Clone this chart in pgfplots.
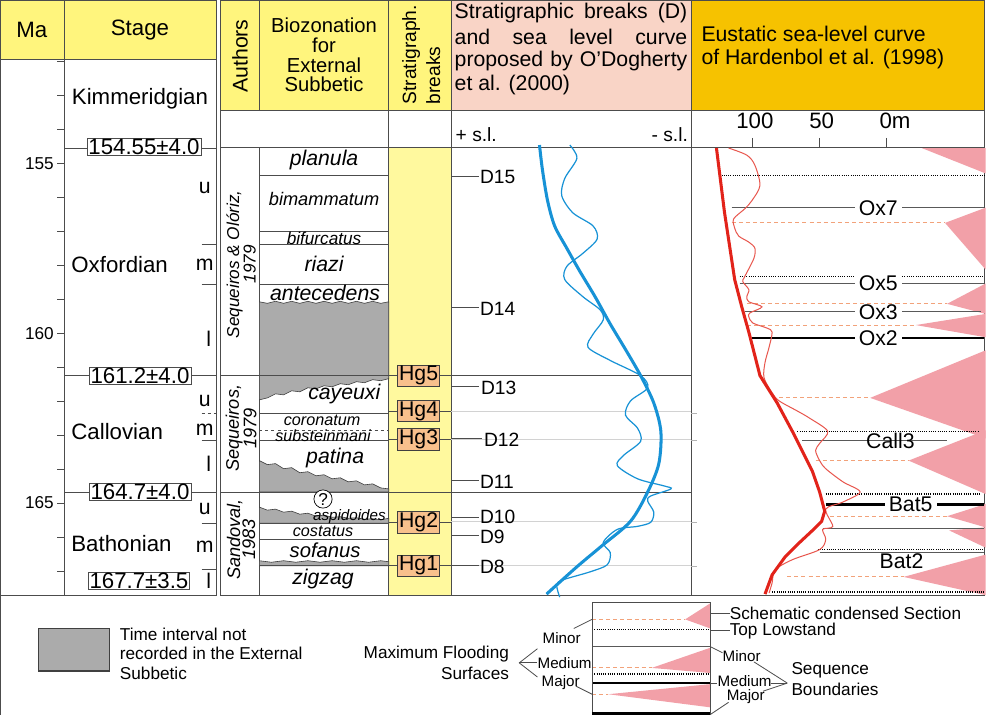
\documentclass[border=0pt]{standalone}
\usepackage{pgfplots}
\pgfplotsset{compat=1.18}
\usepackage{fontspec}
\setmainfont{Liberation Sans}
\definecolor{hdryel}{HTML}{FFF57D}
\definecolor{colyel}{HTML}{FFF99E}
\definecolor{hdrpink}{HTML}{F9D4C6}
\definecolor{hdrorange}{HTML}{F6C200}
\definecolor{hgbox}{HTML}{F8C08C}
\definecolor{tri}{HTML}{F2A0A8}
\definecolor{blue1}{HTML}{1792D6}
\definecolor{red1}{HTML}{E2231A}
\definecolor{red2}{HTML}{E8574E}
\definecolor{dashor}{HTML}{F2A27A}
\definecolor{hiat}{HTML}{ABABAB}
\tikzset{frame/.style={draw=gray!60!black, line width=0.8pt}}
\newcommand\F[1]{\fontsize{#1}{#1}\selectfont}
\newcommand\hl[4][]{\addplot[frame,#1] coordinates {(#2,#4)(#3,#4)};}
\newcommand\vl[4][]{\addplot[frame,#1] coordinates {(#4,#2)(#4,#3)};}
\newcommand\rect[5][]{\addplot[frame,#1] coordinates {(#2,#3)(#4,#3)(#4,#5)(#2,#5)} -- cycle;}
\newcommand\tri[6]{\addplot[draw=none,fill=tri] coordinates {(#1,#2)(#3,#4)(#5,#6)} -- cycle;}
\tikzset{dsh/.style={draw=dashor,line width=1pt,dash pattern=on 4pt off 3pt},
dot/.style={draw=black,line width=1.5pt,dash pattern=on 1pt off 1.2pt},
sbm/.style={draw=gray!70!black,line width=1pt}}
\begin{document}
\begin{tikzpicture}
\begin{axis}[x=1pt,y=1pt,y dir=reverse,xmin=0,xmax=986,ymin=0,ymax=717,
  hide axis,scale only axis,clip=false]
% ---------- left block
\rect[fill=hdryel]{12}{7}{75}{65}
\rect[fill=hdryel]{75}{7}{226}{65}
\rect[fill=white]{12}{65}{226}{595}
\vl{65}{595}{75}
\hl{68}{75}{67.2}\hl{68}{75}{100.8}\hl{68}{75}{134.4}\hl{68}{75}{168}
\hl{68}{75}{201.6}\hl{68}{75}{235.2}\hl{68}{75}{268.8}\hl{68}{75}{302.4}
\hl{68}{75}{336}\hl{68}{75}{369.6}\hl{68}{75}{403.2}\hl{68}{75}{436.8}
\hl{68}{75}{470.4}\hl{68}{75}{504}\hl{68}{75}{537.6}\hl{68}{75}{571.2}
\hl{75}{226}{153}\hl{75}{226}{378}\hl{75}{226}{493}
\hl{211}{226}{248}\hl{211}{226}{288}\hl[dashed]{211}{226}{415}\hl{211}{226}{442}
\hl{211}{226}{524}\hl{211}{226}{570}
% ---------- right block frame
\rect[fill=hdryel]{230}{7}{268}{116}
\rect[fill=hdryel]{268}{7}{396}{116}
\rect[fill=hdryel]{396}{7}{458}{116}
\rect[fill=hdrpink]{458}{7}{695}{116}
\rect[fill=hdrorange]{695}{7}{985}{116}
\rect[fill=white]{230}{116}{985}{595}
\rect[draw=none,fill=colyel]{396}{152}{458}{595}
\hl{230}{985}{152}
\vl{152}{595}{268}\vl{116}{595}{396}\vl{116}{595}{458}\vl{116}{595}{695}
% ---------- hiatus fills
\addplot[fill=hiat,draw=gray!50!black,line width=0.6pt] coordinates {(268,305)(276,306.5)(284,304.5)(292,306.5)(300,304.5)(308,306.5)(316,304.5)(324,306.5)(332,304.5)(340,306.5)(348,304.5)(356,306.5)(364,304.5)(372,306.5)(380,304.5)(388,306.5)(396,305)(396,378)(268,378)} -- cycle;
\addplot[fill=hiat,draw=gray!50!black,line width=0.6pt] coordinates {(268,378)(396,378)(396,381)(388,383)(380,382)(372,385)(364,384)(356,387)(348,386)(340,389)(332,388)(324,391)(316,390)(308,394)(300,393)(292,397)(284,396)(276,400)(268,402)} -- cycle;
\addplot[fill=hiat,draw=gray!50!black,line width=0.6pt] coordinates {(268,462)(276,466)(284,465)(292,470)(300,469)(308,474)(316,473)(324,477)(332,476)(340,480)(348,479)(356,483)(364,482)(372,486)(380,485)(388,489)(396,490)(396,493)(268,493)} -- cycle;
\addplot[fill=hiat,draw=gray!50!black,line width=0.6pt] coordinates {(268,508)(276,511)(284,510)(292,513)(300,512)(308,515)(316,514)(324,517)(332,516)(340,518)(348,517.5)(356,519)(364,518.5)(372,520)(380,519.5)(388,520.5)(396,519)(396,524)(268,524)} -- cycle;
\addplot[fill=hiat,draw=gray!50!black,line width=0.6pt] coordinates {(268,561)(280,562.5)(292,561)(304,562.5)(316,561)(328,562.5)(340,561)(352,562.5)(364,561)(376,562.5)(388,561)(396,562)(396,566)(268,566)} -- cycle;
% ---------- zone lines
\hl{268}{396}{180}\hl{268}{396}{235}\hl{268}{396}{248}\hl{268}{396}{288}
\hl{268}{396}{415}\hl[dashed]{268}{396}{432}\hl{268}{396}{442}
\hl{268}{396}{524}\hl{268}{396}{540}\hl{268}{396}{566}
\hl{230}{695}{378}\hl{230}{695}{493}
\hl{396}{458}{413}\hl{396}{458}{441}\hl{396}{458}{523}\hl{396}{458}{566}
\hl[draw=gray!35]{458}{695}{413}\hl[draw=gray!35]{458}{695}{441}
\hl[draw=gray!35]{458}{695}{522}\hl[draw=gray!35]{458}{695}{566}
% D ticks
\hl{458}{485}{181}\hl{458}{485}{311}\hl{458}{485}{389}\hl{458}{488}{440}
\hl{458}{485}{482}\hl{458}{485}{518}\hl{458}{485}{536}\hl{458}{485}{566}
% red column ticks
\hl[draw=gray!60]{695}{701}{415}\hl[draw=gray!60]{695}{701}{442}
\hl[draw=gray!60]{695}{701}{523}\hl[draw=gray!60]{695}{701}{567}
\vl{143}{152}{756}\vl{143}{152}{822}\vl{143}{152}{888}
% ---------- blue curves
\addplot[blue1,line width=1.2pt,smooth] coordinates {(575,150)(582,163)(570,183)(567,200)(578,217)(598,230)(602,243)(588,257)(572,270)(570,283)(588,300)(605,313)(608,323)(598,337)(593,350)(615,363)(645,378)(652,390)(635,403)(630,417)(642,430)(645,443)(628,457)(622,467)(642,480)(668,487)(675,490)(655,497)(652,502)(658,513)(655,523)(642,527)(622,530)(608,543)(615,553)(612,565)(595,572)(568,580)(562,585)(565,597)};
\addplot[blue1,line width=3pt,smooth] coordinates {(545,150)(548,175)(553,205)(560,230)(572,252)(585,275)(600,300)(615,327)(630,352)(645,378)(658,405)(665,433)(663,465)(652,493)(635,522)(607,546)(582,567)(552,594)};
% ---------- red column
\tri{923}{153}{986}{153}{986}{178}
\tri{946}{227}{986}{212}{986}{273}
\tri{948}{307}{986}{287}{986}{317}
\tri{917}{328}{986}{317}{986}{340}
\tri{872}{400}{986}{353}{986}{440}
\tri{910}{462}{986}{432}{986}{495}
\tri{948}{517}{986}{505}{986}{528}
\tri{950}{531}{986}{528}{986}{548}
\tri{905}{577}{986}{555}{986}{595}
\hl[dsh]{735}{946}{227}\hl[dsh]{750}{948}{307}\hl[dsh]{750}{917}{328}
\hl[dsh]{782}{872}{400}\hl[dsh]{818}{910}{462}\hl[dsh]{832}{948}{517}
\hl[dsh]{790}{905}{577}
\hl[dot]{725}{985}{180}\hl[dot]{743}{985}{280}\hl[dot]{800}{980}{433}
\hl[dot]{828}{980}{495}\hl[dot]{820}{985}{550}\hl[dot]{775}{985}{592}
\hl[sbm]{735}{985}{212}\hl[sbm]{743}{985}{287}\hl[sbm]{748}{982}{315}
\hl[sbm]{805}{948}{442}\hl[sbm]{825}{985}{529}\hl[sbm]{822}{985}{553}
\hl[draw=black,line width=1.6pt]{755}{985}{341}
\hl[draw=black,line width=3pt]{828}{985}{505}
\addplot[red2,line width=1pt,smooth] coordinates {(732,153)(750,160)(758,170)(763,190)(755,205)(748,213)(737,223)(738,232)(742,240)(752,246)(758,252)(757,262)(748,280)(746,285)(752,293)(750,300)(752,305)(765,310)(753,316)(752,320)(756,326)(770,331)(775,335)(772,350)(768,365)(767,380)(775,395)(782,403)(800,413)(812,420)(830,433)(822,445)(818,452)(822,462)(828,470)(845,483)(862,493)(845,503)(828,510)(835,527)(825,530)(828,540)(822,550)(795,560)(778,570)(775,583)(772,593)};
\addplot[red1,line width=3pt] coordinates {(720,153)(724,185)(728,217)(733,250)(738,283)(745,310)(752,335)(763,378)(780,405)(795,433)(806,455)(815,473)(822,493)(827,512)(824,522)(815,531)(800,545)(788,557)(775,575)(768,594)};
% ---------- legend
\rect[fill=hiat,draw=gray!50!black,line width=1.2pt]{50}{628}{120}{670}
\vl{595}{714}{12}
\tri{689}{619}{714}{603}{714}{628}
\tri{656}{667}{714}{647}{714}{672}
\tri{613}{693}{714}{683}{714}{706}
\hl[dsh]{597}{689}{619}\hl[dsh]{597}{656}{667}\hl[dsh]{597}{613}{693}
\hl[dot]{597}{714}{629}\hl[dot]{597}{714}{673}
\hl[sbm]{597}{714}{646}
\hl[draw=black,line width=1.6pt]{597}{714}{682}
\rect[fill=none]{597}{602}{714}{713}
\hl[draw=black,line width=2.5pt]{597}{714}{712}
\addplot[frame] coordinates {(579,628)(597,619)};
\addplot[frame] coordinates {(543,648)(525,662)(543,676)};
\addplot[frame] coordinates {(525,662)(543,662)};
\addplot[frame] coordinates {(581,685)(597,693)};
\addplot[frame] coordinates {(714,613)(733,613)};
\addplot[frame] coordinates {(714,630)(733,630)};
\addplot[frame] coordinates {(714,646)(726,652)};
\addplot[frame] coordinates {(757,661)(790,682)};
\addplot[frame] coordinates {(714,682)(721,682)};
\addplot[frame] coordinates {(774,682)(790,682)};
\addplot[frame] coordinates {(766,690)(790,682)};
\addplot[frame] coordinates {(714,713)(732,701)};
% ---------- texts
\node at (43,36) {\F{22}Ma};
\node at (150,36) {\F{22}Stage};
\node[rotate=90] at (249,62) {\F{21}Authors};
\node[align=center,font=\fontsize{20}{19.5}\selectfont] at (332,61) {Biozonation\\for\\External\\Subbetic};
\node[rotate=90,anchor=west,inner sep=0] at (418,110) {\F{19}Stratigraph.};
\node[rotate=90,anchor=west,inner sep=0] at (440,110) {\F{19}breaks};
\node[anchor=west,inner sep=0] at (461,19) {\F{21}\makebox[230pt][s]{Stratigraphic breaks (D)}};
\node[anchor=west,inner sep=0] at (461,43) {\F{21}\makebox[230pt][s]{and sea level curve}};
\node[anchor=west,inner sep=0] at (461,67) {\F{21}\makebox[230pt][s]{proposed by O’Dogherty}};
\node[anchor=west,inner sep=0] at (461,91) {\F{21}et al. (2000)};
\node[anchor=west,inner sep=0] at (705,40) {\F{21}Eustatic sea-level curve};
\node[anchor=west,inner sep=0] at (705,65) {\F{21}of Hardenbol et al. (1998)};
\node[anchor=west,inner sep=0] at (462,140) {\F{19}+ s.l.};
\node[anchor=east,inner sep=0] at (692,140) {\F{19}- s.l.};
\node[inner sep=0] at (758,126) {\F{22}100};
\node[inner sep=0] at (824,126) {\F{22}50};
\node[anchor=west,inner sep=0] at (881,126) {\F{22}0m};
% Ma labels
\node[anchor=east,inner sep=0] at (65,168) {\F{17}155};
\node[anchor=east,inner sep=0] at (65,336) {\F{17}160};
\node[anchor=east,inner sep=0] at (65,504) {\F{17}165};
% stages
\node at (150,104) {\F{22}Kimmeridgian};
\node[anchor=west,inner sep=0] at (82,268) {\F{22}Oxfordian};
\node[anchor=west,inner sep=0] at (82,433) {\F{22}Callovian};
\node[anchor=west,inner sep=0] at (82,544) {\F{22}Bathonian};
\node at (214,192) {\F{21}u};\node at (214,268) {\F{21}m};\node at (218,342) {\F{21}l};
\node at (214,403) {\F{21}u};\node at (214,432) {\F{21}m};\node at (218,465) {\F{21}l};
\node at (214,510) {\F{21}u};\node at (214,547) {\F{21}m};\node at (218,581) {\F{21}l};
\node[draw=gray!60!black,fill=white,inner xsep=1.5pt,inner ysep=0.5pt,line width=0.8pt] at (154,152) {\F{22}154.55±4.0};
\node[draw=gray!60!black,fill=white,inner xsep=1.5pt,inner ysep=0.5pt,line width=0.8pt] at (150,378) {\F{22}161.2±4.0};
\node[draw=gray!60!black,fill=white,inner xsep=1.5pt,inner ysep=0.5pt,line width=0.8pt] at (150,493) {\F{22}164.7±4.0};
\node[draw=gray!60!black,fill=white,inner xsep=1.5pt,inner ysep=0.5pt,line width=0.8pt] at (149,581) {\F{22}167.7±3.5};
% authors
\node[rotate=90,align=center,font=\fontsize{17}{15}\selectfont\itshape] at (250,268) {Sequeiros \& Olóriz,\\1979};
\node[rotate=90,align=center,font=\fontsize{18}{15}\selectfont\itshape] at (250,430) {Sequeiros,\\1979};
\node[rotate=90,align=center,font=\fontsize{18}{15}\selectfont\itshape] at (250,540) {Sandoval,\\1983};
% zones
\node at (332,165) {\F{21}\itshape planula};
\node at (332,203) {\F{18}\itshape bimammatum};
\node at (332,242) {\F{17}\itshape bifurcatus};
\node at (332,268) {\F{21}\itshape riazi};
\node at (333,296) {\F{21}\itshape antecedens};
\node at (352,396) {\F{21}\itshape cayeuxi};
\node at (330,422) {\F{16}\itshape coronatum};
\node at (331,437) {\F{16}\itshape substeinmani};
\node at (343,459) {\F{21}\itshape patina};
\node[draw,circle,inner sep=0pt,minimum size=18pt,fill=white,line width=0.7pt] at (331,500) {\F{17}?};
\node at (357,517) {\F{15}\itshape aspidoides};
\node at (331,532) {\F{16}\itshape costatus};
\node at (333,551) {\F{20}\itshape sofanus};
\node at (331,579) {\F{21}\itshape zigzag};
% Hg boxes
\node[draw=gray!50!black,fill=hgbox,inner xsep=1.5pt,inner ysep=1pt,line width=0.8pt] at (425.5,378) {\F{21}Hg5};
\node[draw=gray!50!black,fill=hgbox,inner xsep=1.5pt,inner ysep=1pt,line width=0.8pt] at (425.5,413) {\F{21}Hg4};
\node[draw=gray!50!black,fill=hgbox,inner xsep=1.5pt,inner ysep=1pt,line width=0.8pt] at (425.5,441) {\F{21}Hg3};
\node[draw=gray!50!black,fill=hgbox,inner xsep=1.5pt,inner ysep=1pt,line width=0.8pt] at (425.5,523) {\F{21}Hg2};
\node[draw=gray!50!black,fill=hgbox,inner xsep=1.5pt,inner ysep=1pt,line width=0.8pt] at (425.5,566) {\F{21}Hg1};
% D labels
\node[anchor=west,inner sep=0] at (486,182) {\F{19}D15};
\node[anchor=west,inner sep=0] at (486,312) {\F{19}D14};
\node[anchor=west,inner sep=0] at (487,390) {\F{19}D13};
\node[anchor=west,inner sep=0] at (490,441) {\F{19}D12};
\node[anchor=west,inner sep=0] at (486,483) {\F{19}D11};
\node[anchor=west,inner sep=0] at (486,518) {\F{19}D10};
\node[anchor=west,inner sep=0] at (486,537) {\F{19}D9};
\node[anchor=west,inner sep=0] at (486,567) {\F{19}D8};
% sequence labels
\node[fill=white,inner xsep=4pt,inner ysep=0pt] at (880,212) {\F{21}Ox7};
\node[fill=white,inner xsep=4pt,inner ysep=0pt] at (880,287) {\F{21}Ox5};
\node[fill=white,inner xsep=4pt,inner ysep=0pt] at (880,315) {\F{21}Ox3};
\node[fill=white,inner xsep=4pt,inner ysep=0pt] at (880,341) {\F{21}Ox2};
\node[inner sep=0pt] at (892,443) {\F{21}Call3};
\node[fill=white,inner xsep=4pt,inner ysep=0pt] at (912,505) {\F{21}Bat5};
\node[fill=white,inner xsep=4pt,inner ysep=0pt] at (903,561) {\F{21}Bat2};
% legend texts
\node[anchor=west,inner sep=0] at (130,634) {\F{17}Time interval not};
\node[anchor=west,inner sep=0] at (130,653) {\F{17}recorded in the External};
\node[anchor=west,inner sep=0] at (130,672) {\F{17}Subbetic};
\node[anchor=east,inner sep=0] at (515,653) {\F{17}Maximum Flooding};
\node[anchor=east,inner sep=0] at (515,672) {\F{17}Surfaces};
\node[anchor=west,inner sep=0] at (548,637) {\F{15}Minor};
\node[anchor=west,inner sep=0] at (543,662) {\F{15}Medium};
\node[anchor=west,inner sep=0] at (547,681) {\F{15}Major};
\node[anchor=west,inner sep=0] at (733,613) {\F{17}Schematic condensed Section};
\node[anchor=west,inner sep=0] at (733,631) {\F{17}Top Lowstand};
\node[anchor=west,inner sep=0] at (726,655) {\F{15}Minor};
\node[anchor=west,inner sep=0] at (721,680) {\F{15}Medium};
\node[anchor=west,inner sep=0] at (730,695) {\F{15}Major};
\node[anchor=west,inner sep=0] at (794,669) {\F{17}Sequence};
\node[anchor=west,inner sep=0] at (794,688) {\F{17}Boundaries};
\end{axis}
\end{tikzpicture}
\end{document}
